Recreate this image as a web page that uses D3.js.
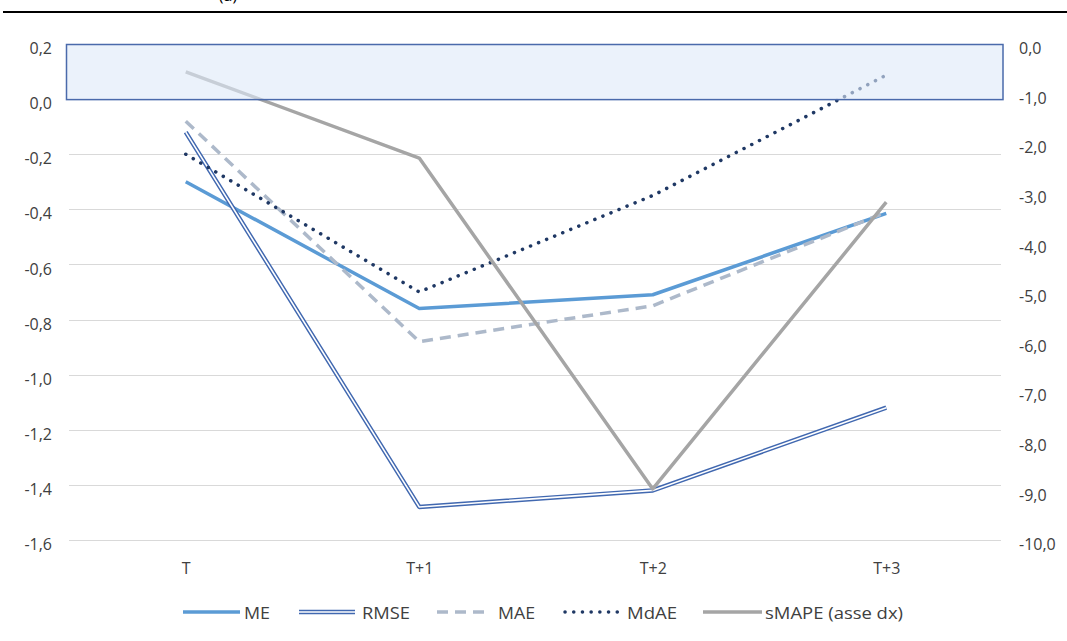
<!DOCTYPE html>
<html>
<head>
<meta charset="utf-8">
<script src="https://cdn.jsdelivr.net/npm/d3@7"></script>
<style>
  html, body { margin: 0; padding: 0; background: #fff; }
  svg { display: block; }
  text { font-family: "Open Sans", "Liberation Sans", sans-serif; fill: #404040; }
</style>
</head>
<body>
<div id="chart"></div>
<script>
// Forecast horizons
const categories = ["T", "T+1", "T+2", "T+3"];

// Error metrics on the left axis
const meValues   = [-0.30, -0.76, -0.71, -0.415];
const rmseValues = [-0.12, -1.48, -1.42, -1.12];
const maeValues  = [-0.08, -0.88, -0.75, -0.41];
const mdaeValues = [-0.20, -0.70, -0.35, 0.087];
// sMAPE on the right axis
const smapeValues = [-0.56, -2.3, -8.97, -3.19];

const leftTicks  = [0.2, 0.0, -0.2, -0.4, -0.6, -0.8, -1.0, -1.2, -1.4, -1.6];
const rightTicks = [0, -1, -2, -3, -4, -5, -6, -7, -8, -9, -10];

const W = 1067, H = 641;
const plot = { left: 69, right: 1003, top: 44, bottom: 540 };

const svg = d3.select("#chart").append("svg").attr("width", W).attr("height", H);

const fmt = d3.formatLocale({ decimal: ",", thousands: ".", grouping: [3], currency: ["", "€"], minus: "-" });
const f1 = fmt.format(".1f");

const x = d3.scalePoint().domain(categories).range([plot.left, plot.right]).padding(0.5);
const yL = d3.scaleLinear().domain([-1.6, 0.2]).range([plot.bottom, plot.top]);
const yR = d3.scaleLinear().domain([-10, 0]).range([plot.bottom, plot.top]);

// Header rule and panel label
svg.append("line").attr("x1", 3).attr("x2", W).attr("y1", 12).attr("y2", 12)
  .attr("stroke", "#000").attr("stroke-width", 2.2);
svg.append("text").attr("x", 228).attr("y", 1).attr("text-anchor", "middle")
  .style("font-size", "16px").style("fill", "#000").text("(a)");

// Horizontal gridlines
svg.append("g").selectAll("line").data(leftTicks.filter(d => d < 0)).join("line")
  .attr("x1", plot.left).attr("x2", plot.right - 2)
  .attr("y1", d => Math.round(yL(d)) + 0.5).attr("y2", d => Math.round(yL(d)) + 0.5)
  .attr("stroke", "#d9d9d9").attr("stroke-width", 1);

// Left axis
const axL = d3.axisLeft(yL).tickValues(leftTicks).tickFormat(f1).tickSize(0).tickPadding(0);
const gL = svg.append("g").attr("transform", `translate(52,0)`).call(axL);
gL.select(".domain").remove();
gL.selectAll("text").attr("dy", "0.6em").style("font-size", "16px").style("fill", "#404040");

// Right axis
const axR = d3.axisRight(yR).tickValues(rightTicks).tickFormat(f1).tickSize(0).tickPadding(0);
const gR = svg.append("g").attr("transform", `translate(1019,0)`).call(axR);
gR.select(".domain").remove();
gR.selectAll("text").attr("dy", "0.6em").style("font-size", "16px").style("fill", "#404040");

// Category axis labels
const gX = svg.append("g").attr("transform", `translate(0,563)`)
  .call(d3.axisBottom(x).tickSize(0).tickPadding(0));
gX.select(".domain").remove();
gX.selectAll("text").style("font-size", "16px").style("fill", "#404040");

const lineL = d3.line().x((d, i) => x(categories[i])).y(d => yL(d));
const lineR = d3.line().x((d, i) => x(categories[i])).y(d => yR(d));

const series = [
  { name: "ME", values: meValues, line: lineL },
  { name: "RMSE", values: rmseValues, line: lineL },
  { name: "MAE", values: maeValues, line: lineL },
  { name: "MdAE", values: mdaeValues, line: lineL },
  { name: "sMAPE (asse dx)", values: smapeValues, line: lineR }
];

// Stroke layers used for each metric (double line for RMSE)
function strokeLayers(name) {
  switch (name) {
    case "ME": return [{ stroke: "#5b9bd5", width: 3.5 }];
    case "RMSE": return [{ stroke: "#4168b0", width: 4.5 }, { stroke: "#fff", width: 1.6 }];
    case "MAE": return [{ stroke: "#adb9ca", width: 3.5, dash: "11,7" }];
    case "MdAE": return [{ stroke: "#1f3864", width: 3.5, dash: "0.1,8.6", cap: "round" }];
    default: return [{ stroke: "#a5a5a5", width: 3.5 }];
  }
}

const gLines = svg.append("g");
series.forEach(s => {
  strokeLayers(s.name).forEach(st => {
    gLines.append("path").attr("d", s.line(s.values)).attr("fill", "none")
      .attr("stroke", st.stroke).attr("stroke-width", st.width)
      .attr("stroke-dasharray", st.dash || null)
      .attr("stroke-linecap", st.cap || "butt")
      .attr("stroke-linejoin", "round");
  });
});

// Shaded band between 0 and 0.2 on the left axis
svg.append("rect")
  .attr("x", 66.5).attr("y", yL(0.2) + 0.5)
  .attr("width", plot.right - 66.5).attr("height", yL(0) - yL(0.2))
  .attr("fill", "#dde9f8").attr("fill-opacity", 0.6)
  .attr("stroke", "#4a6aab").attr("stroke-width", 1.5);

// Legend
const legend = [
  { name: "ME", x1: 183, x2: 240, tx: 244, tw: 26 },
  { name: "RMSE", x1: 299, x2: 355, tx: 362, tw: 48 },
  { name: "MAE", x1: 437, x2: 488, tx: 498, tw: 37 },
  { name: "MdAE", x1: 565, x2: 619, tx: 627, tw: 50 },
  { name: "sMAPE (asse dx)", x1: 703, x2: 762, tx: 765, tw: 138 }
];
const gLeg = svg.append("g");
legend.forEach(l => {
  const y = 612;
  strokeLayers(l.name).forEach(st => {
    gLeg.append("line").attr("x1", l.x1).attr("x2", l.x2).attr("y1", y).attr("y2", y)
      .attr("stroke", st.stroke).attr("stroke-width", st.width)
      .attr("stroke-dasharray", st.dash || null)
      .attr("stroke-linecap", st.cap || "butt");
  });
  gLeg.append("text").attr("x", l.tx).attr("y", 619)
    .attr("textLength", l.tw).attr("lengthAdjust", "spacingAndGlyphs")
    .style("font-size", "16px").text(l.name);
});
</script>
</body>
</html>
